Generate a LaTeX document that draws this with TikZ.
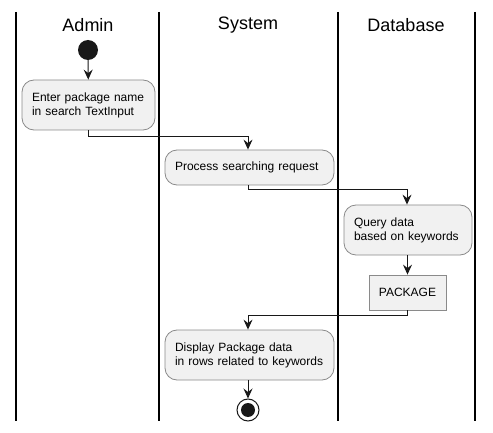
\documentclass[tikz,border=0pt]{standalone}
\usepackage{fontspec}
\setmainfont{Liberation Sans}
\usetikzlibrary{arrows.meta}
\definecolor{actfill}{HTML}{F1F1F1}
\definecolor{actline}{HTML}{181818}
\definecolor{actborder}{HTML}{8A8A8A}
\tikzset{
  act/.style={draw=actborder, fill=actfill, rounded corners=12pt, line width=0.8pt,
    align=left, inner xsep=10pt, inner ysep=4pt, font=\fontsize{12}{14}\selectfont},
  objbox/.style={draw=actborder, fill=actfill, line width=0.8pt, align=center,
    font=\fontsize{12}{14}\selectfont},
  lane/.style={line width=1.3pt, black},
  lanetitle/.style={font=\fontsize{18}{20}\selectfont},
  flow/.style={line width=1pt, actline, -{Stealth[length=10pt,width=9pt,inset=3.5pt]}},
}
\begin{document}
\begin{tikzpicture}[x=1pt,y=-1pt]
\useasboundingbox (0,0) rectangle (493,433);
% lanes
\foreach \x in {16,159,338,475} \draw[lane] (\x,12) -- (\x,421);
\node[lanetitle] (tA) at (88,25) {Admin};
\node[lanetitle] (tS) at (248,25) {System};
\node[lanetitle] (tD) at (406,25) {Database};
% start
\node[circle, fill=actline, minimum size=20pt, inner sep=0pt] (start) at (88,50) {};
\node[act, text width=113pt, minimum height=50pt] (n1) at (88.5,105) {Enter package name\\in search TextInput};
\node[act, text width=149pt, minimum height=35pt] (n2) at (249.5,167.5) {Process searching request};
\node[act, text width=108pt, minimum height=50pt] (n3) at (408,230) {Query data\\based on keywords};
\node[objbox, minimum width=77pt, minimum height=35pt] (pk) at (407.5,292.5) {PACKAGE};
\node[act, text width=149pt, minimum height=50pt] (n4) at (249.5,355) {Display Package data\\in rows related to keywords};
% end
\node[circle, draw=actline, fill=white, line width=1pt, minimum size=22pt, inner sep=0pt] (stop) at (248,410) {};
\node[circle, fill=actline, minimum size=14pt, inner sep=0pt] (stopin) at (248,410) {};
% flows
\draw[flow] (start) -- (n1);
\coordinate (c1) at (88,137);
\draw[flow] (n1.south -| c1) -- (c1) -| (n2.north -| 248,0);
\coordinate (c2) at (248,190);
\draw[flow] (n2.south -| c2) -- (c2) -| (n3.north -| 407,0);
\draw[flow] (n3.south -| pk.north) -- (pk.north);
\coordinate (c3) at (407,315);
\draw[flow] (pk.south -| c3) -- (c3) -| (n4.north -| 248,0);
\draw[flow] (n4.south -| stop.north) -- (stop.north);
\end{tikzpicture}
\end{document}
